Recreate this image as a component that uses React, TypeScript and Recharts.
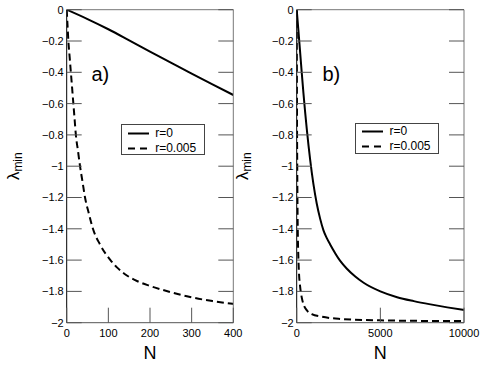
import React from 'react';
import { LineChart, Line, XAxis, YAxis, Legend } from 'recharts';

// ---------- data ----------
const nTicksA = [0, 100, 200, 300, 400];
const nTicksB = [0, 5000, 10000];
const lambdaTicks = [0, -0.2, -0.4, -0.6, -0.8, -1, -1.2, -1.4, -1.6, -1.8, -2];

const seriesNames = ['r=0', 'r=0.005'];

const aSolidN = [0, 50, 100, 150, 200, 250, 300, 350, 400];
const aSolidL = [0, -0.06, -0.125, -0.196, -0.268, -0.338, -0.408, -0.477, -0.545];

const aDashN = [0, 2, 4, 7, 10, 13, 16, 19, 22, 27, 32, 38, 44, 53, 63, 80, 105, 120, 140, 170, 200, 250, 300, 350, 400];
const aDashL = [0, -0.1, -0.2, -0.3, -0.4, -0.5, -0.6, -0.7, -0.8, -0.9, -1.0, -1.1, -1.2, -1.3, -1.4, -1.5, -1.6, -1.645, -1.69, -1.735, -1.765, -1.805, -1.838, -1.862, -1.88];

const bSolidN = [0, 100, 200, 300, 400, 500, 600, 800, 1000, 1200, 1400, 1600, 1800, 2000, 2600, 3000, 3500, 4000, 5000, 6000, 7000, 8000, 9000, 10000];
const bSolidL = [0, -0.13, -0.265, -0.4, -0.53, -0.65, -0.76, -0.955, -1.115, -1.24, -1.335, -1.41, -1.46, -1.5, -1.605, -1.655, -1.705, -1.745, -1.8, -1.837, -1.862, -1.883, -1.902, -1.919];

const bDashN = [0, 4, 10, 16, 22, 32, 44, 63, 105, 140, 200, 300, 400, 600, 900, 1500, 2500, 5000, 10000];
const bDashL = [0, -0.2, -0.4, -0.6, -0.8, -1.0, -1.2, -1.4, -1.6, -1.69, -1.765, -1.838, -1.88, -1.92, -1.945, -1.962, -1.975, -1.985, -1.99];

const zip = (ns: number[], ls: number[]) => ns.map((n, i) => ({ n, l: ls[i] }));

// ---------- styling ----------
const FONT = '"Liberation Sans", Arial, Helvetica, sans-serif';
const TICK_LEN = 15;
const TM = 3;
const TICK_COLOR = '#555';
const DASH = '7 4';

const fmt = (v: number) => (v === 0 ? '0' : (v < 0 ? '\u2212' : '') + String(Math.abs(Math.round(v * 10) / 10)));

const BottomTick = (props: any) => {
  const { x, y, payload } = props;
  const ay = y - TM;
  return (
    <g>
      <line x1={x} x2={x} y1={ay} y2={ay - TICK_LEN} stroke={TICK_COLOR} strokeWidth={1} />
      <text x={x} y={ay + 14.5} textAnchor="middle" fontSize={11} fontFamily={FONT} fill="#000">
        {String(payload.value)}
      </text>
    </g>
  );
};

const TopTick = (props: any) => {
  const { x, y } = props;
  return <line x1={x} x2={x} y1={y} y2={y + TICK_LEN} stroke={TICK_COLOR} strokeWidth={1} />;
};

const LeftTick = (props: any) => {
  const { x, y, payload } = props;
  const ax = x + TM;
  return (
    <g>
      <line x1={ax} x2={ax + TICK_LEN} y1={y} y2={y} stroke={TICK_COLOR} strokeWidth={1} />
      <text x={ax - 3} y={y} dy="0.36em" textAnchor="end" fontSize={11} fontFamily={FONT} fill="#000">
        {fmt(payload.value)}
      </text>
    </g>
  );
};

const RightTick = (props: any) => {
  const { x, y } = props;
  return <line x1={x} x2={x - TICK_LEN} y1={y} y2={y} stroke={TICK_COLOR} strokeWidth={1} />;
};

const LegendBox = (props: any) => {
  const { payload } = props;
  return (
    <div
      style={{
        border: '1px solid #444',
        background: '#fff',
        width: 84,
        height: 31,
        boxSizing: 'border-box',
        paddingLeft: 6,
        paddingTop: 0.5,
        fontFamily: FONT,
        fontSize: 12,
        color: '#000',
      }}
    >
      {(payload || []).map((e: any, i: number) => (
        <div key={i} style={{ display: 'flex', alignItems: 'center', height: 15 }}>
          <svg width={21} height={15} style={{ display: 'block' }}>
            <line
              x1={0}
              x2={21}
              y1={7.5}
              y2={7.5}
              stroke="#000"
              strokeWidth={2}
              strokeDasharray={i === 1 ? '7 5' : undefined}
            />
          </svg>
          <span style={{ marginLeft: 6.5, lineHeight: '15px' }}>{e.value}</span>
        </div>
      ))}
    </div>
  );
};

const LambdaLabel = (offsetX: number) => (props: any) => {
  const vb = props.viewBox || {};
  const cx = vb.x + offsetX;
  const cy = vb.y + vb.height / 2;
  return (
    <text
      transform={`translate(${cx},${cy}) rotate(-90)`}
      textAnchor="middle"
      fontFamily={FONT}
      fill="#000"
      fontSize={17}
    >
      λ
      <tspan fontSize={12} dy={3}>min</tspan>
    </text>
  );
};

const NLabel = (props: any) => {
  const vb = props.viewBox || {};
  return (
    <text x={vb.x + vb.width / 2} y={vb.y + 36.5} textAnchor="middle" fontFamily={FONT} fontSize={18} fill="#000">
      N
    </text>
  );
};

type PanelProps = {
  width: number;
  marginRight: number;
  xMax: number;
  xTicks: number[];
  solid: { n: number; l: number }[];
  dashed: { n: number; l: number }[];
  legendLeft: number;
  legendTop: number;
  lambdaX: number;
};

const Panel = (p: PanelProps) => (
  <LineChart width={p.width} height={366} margin={{ top: 8.7, right: p.marginRight, bottom: 13.3, left: 0 }}>
    <XAxis
      xAxisId={0}
      type="number"
      dataKey="n"
      domain={[0, p.xMax]}
      allowDataOverflow
      ticks={p.xTicks}
      interval={0}
      height={30}
      tickSize={0}
      tickMargin={TM}
      tickLine={false}
      axisLine={{ stroke: '#555', strokeWidth: 1 }}
      tick={<BottomTick />}
      label={{ content: NLabel } as any}
    />
    <XAxis
      xAxisId="top"
      orientation="top"
      type="number"
      domain={[0, p.xMax]}
      allowDataOverflow
      ticks={p.xTicks}
      interval={0}
      height={1}
      tickSize={0}
      tickMargin={0}
      tickLine={false}
      axisLine={{ stroke: '#777', strokeWidth: 1 }}
      tick={<TopTick />}
    />
    <YAxis
      yAxisId={0}
      type="number"
      domain={[-2, 0]}
      allowDataOverflow
      ticks={lambdaTicks}
      interval={0}
      width={66.7}
      tickSize={0}
      tickMargin={TM}
      tickLine={false}
      axisLine={{ stroke: '#000', strokeWidth: 1 }}
      tick={<LeftTick />}
      label={{ content: LambdaLabel(p.lambdaX) } as any}
    />
    <YAxis
      yAxisId="right"
      orientation="right"
      type="number"
      domain={[-2, 0]}
      allowDataOverflow
      ticks={lambdaTicks}
      interval={0}
      width={1}
      tickSize={0}
      tickMargin={0}
      tickLine={false}
      axisLine={{ stroke: '#777', strokeWidth: 1 }}
      tick={<RightTick />}
    />
    <Legend
      layout="horizontal"
      verticalAlign="middle"
      align="center"
      content={<LegendBox />}
      wrapperStyle={{ left: p.legendLeft, top: p.legendTop, width: 84, height: 31 }}
    />
    <Line
      data={p.solid}
      dataKey="l"
      name={seriesNames[0]}
      type="monotone"
      stroke="#000"
      strokeWidth={2}
      dot={false}
      isAnimationActive={false}
    />
    <Line
      data={p.dashed}
      dataKey="l"
      name={seriesNames[1]}
      type="monotone"
      stroke="#000"
      strokeWidth={2}
      strokeDasharray={DASH}
      dot={false}
      isAnimationActive={false}
    />
  </LineChart>
);

export default function App() {
  return (
    <div style={{ position: 'absolute', left: 0, top: 0, width: 485, height: 366, background: '#fff', overflow: 'hidden' }}>
      <div style={{ position: 'absolute', left: 0, top: 0 }}>
        <Panel
          width={245}
          marginRight={10.7}
          xMax={400}
          xTicks={nTicksA}
          solid={zip(aSolidN, aSolidL)}
          dashed={zip(aDashN, aDashL)}
          legendLeft={120.7}
          legendTop={124}
          lambdaX={18.5}
        />
      </div>
      <div style={{ position: 'absolute', left: 230, top: 0 }}>
        <Panel
          width={255}
          marginRight={20}
          xMax={10000}
          xTicks={nTicksB}
          solid={zip(bSolidN, bSolidL)}
          dashed={zip(bDashN, bDashL)}
          legendLeft={125}
          legendTop={122.7}
          lambdaX={18}
        />
      </div>
      <svg width={485} height={366} style={{ position: 'absolute', left: 0, top: 0, pointerEvents: 'none' }}>
        <text x={91.5} y={81} fontFamily={FONT} fontSize={20} fill="#000">a)</text>
        <text x={322.5} y={81} fontFamily={FONT} fontSize={20} fill="#000">b)</text>
      </svg>
    </div>
  );
}
